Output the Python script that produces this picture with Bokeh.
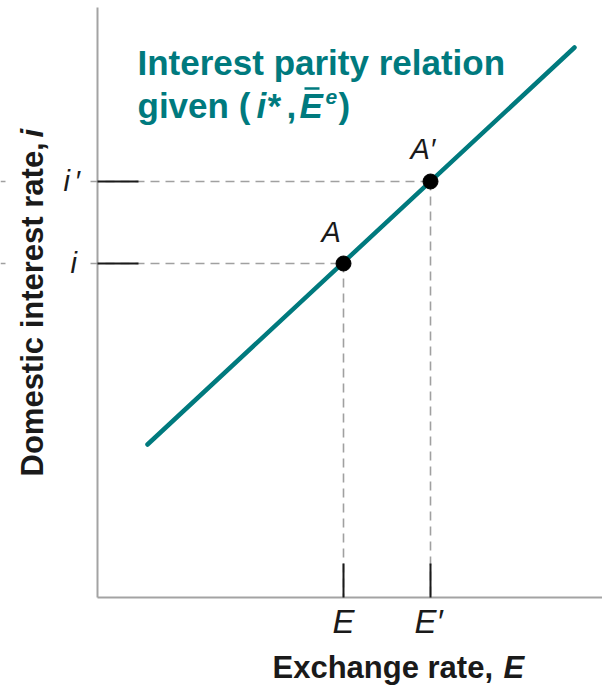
from math import pi

from bokeh.embed import file_html
from bokeh.models import Label, Range1d
from bokeh.plotting import figure
from bokeh.resources import INLINE

# Exchange rates on the horizontal axis and matching domestic interest rates
e_values = [24.6, 33.3]          # E, E'
i_values = [33.4, 41.6]          # i, i'
point_names = ["A", "A\u2032"]
e_tick_labels = ["E", "E\u2032"]
i_tick_labels = ["i", "i\u2032"]

# Interest parity relation (upward-sloping line) endpoints
parity_x = [5.0, 47.7]
parity_y = [15.3, 55.0]

# Axis extents
x_axis_end = 50.5
y_axis_end = 59.0

TEAL = "#007a7e"
GREY = "#a3a3a3"
DASH = "#a0a0a0"
INK = "#1a1a1a"
FONT = "Liberation Sans"
BASE_SHIFT = 0.36   # label anchor sits this fraction of an em above the drawn baseline

p = figure(width=602, height=687,
           x_range=Range1d(-9.7, 50.5), y_range=Range1d(-9.0, 59.7),
           x_axis_location=None, y_axis_location=None,
           output_backend="svg", toolbar_location=None, min_border=0)
p.grid.visible = False
p.outline_line_color = None
p.background_fill_color = "white"


def X(px):
    return (px - 97) / 10.0


def Y(py):
    return (597 - py) / 10.0


# hand-drawn axes
p.segment(x0=[0, 0], y0=[0, 0], x1=[0, x_axis_end], y1=[y_axis_end, 0],
          line_color=GREY, line_width=2)

# dashed guides from each point to the axes
p.segment(x0=[X(0)] * 2, y0=i_values, x1=e_values, y1=i_values,
          line_color=DASH, line_width=1.6, line_dash="9 6")
p.segment(x0=e_values, y0=i_values, x1=e_values, y1=[0, 0],
          line_color=DASH, line_width=1.6, line_dash="9 6")

# clear the guides behind the vertical title and rate labels
p.quad(left=[X(5)] * 2, right=[X(86)] * 2,
       bottom=[v - 1.0 for v in i_values], top=[v + 1.0 for v in i_values],
       fill_color="white", line_color=None)

# short solid ticks at the axes
p.segment(x0=[0, 0], y0=i_values, x1=[X(138)] * 2, y1=i_values,
          line_color=INK, line_width=2)
p.segment(x0=e_values, y0=[0, 0], x1=e_values, y1=[Y(563)] * 2,
          line_color=INK, line_width=2)

# parity line and equilibrium points
p.line(parity_x, parity_y, line_color=TEAL, line_width=4.5, line_cap="round")
p.scatter(e_values, i_values, size=15, color="black")


def add_label(px, py, text, size, style="normal", color=INK, vertical=False):
    """Place text with its baseline at (px, py) in canvas pixels."""
    if vertical:
        x, y, angle = X(px - BASE_SHIFT * size), Y(py), pi / 2
    else:
        x, y, angle = X(px), Y(py - BASE_SHIFT * size), 0.0
    p.add_layout(Label(x=x, y=y, text=text, text_font=FONT,
                       text_font_size=f"{size}px", text_font_style=style,
                       text_color=color, angle=angle, text_align="left",
                       text_baseline="alphabetic"))


# point labels
add_label(321, 242, point_names[0], 29, "italic")
add_label(410, 159, point_names[1], 29, "italic")

# tick labels
add_label(332, 633, e_tick_labels[0], 33, "italic")
add_label(414, 633, e_tick_labels[1], 33, "italic")
add_label(70, 273, i_tick_labels[0], 29, "italic")
add_label(63, 191, "i", 29, "italic")
add_label(74, 191, "\u2032", 29, "italic")

# axis titles
add_label(272, 678, "Exchange rate,", 31, "bold")
add_label(503, 678, "E", 31, "bold italic")
add_label(43, 476, "Domestic interest rate,", 31, "bold", vertical=True)
add_label(43, 137, "i", 31, "bold italic", vertical=True)

# curve caption
add_label(137, 75, "Interest parity relation", 35, "bold", TEAL)
add_label(137, 118, "given (", 35, "bold", TEAL)
add_label(256, 118, "i*", 35, "bold italic", TEAL)
add_label(286, 118, ",", 35, "bold", TEAL)
add_label(299, 118, "E", 35, "bold italic", TEAL)
add_label(325, 104, "e", 21, "bold italic", TEAL)
add_label(338, 118, ")", 35, "bold", TEAL)
p.segment(x0=[X(304)], y0=[Y(88)], x1=[X(319)], y1=[Y(88)],
          line_color=TEAL, line_width=2.5)

open("out.html", "w").write(file_html(p, INLINE))
